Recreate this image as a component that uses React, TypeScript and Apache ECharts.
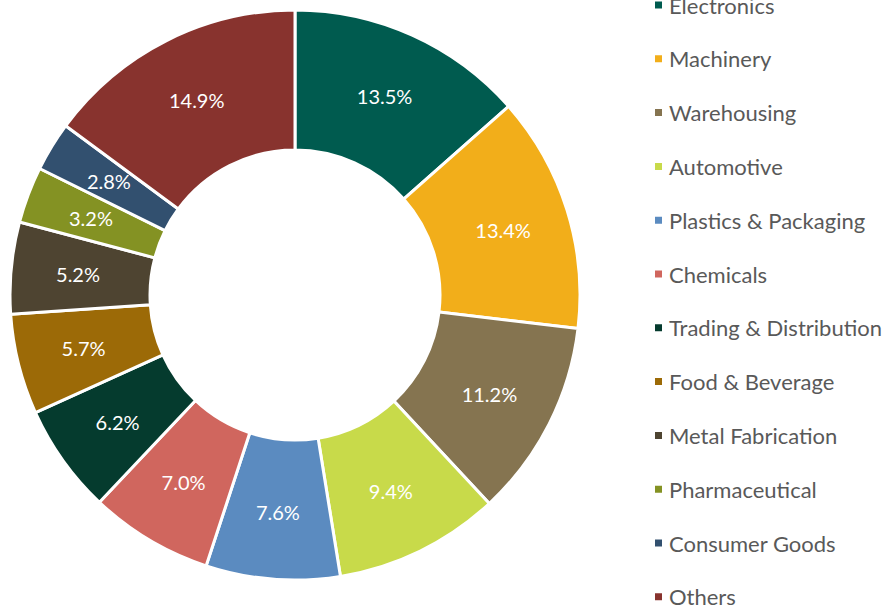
import React, { useEffect, useRef } from "react";
import * as echarts from "echarts";

const categories = [
  "Electronics",
  "Machinery",
  "Warehousing",
  "Automotive",
  "Plastics & Packaging",
  "Chemicals",
  "Trading & Distribution",
  "Food & Beverage",
  "Metal Fabrication",
  "Pharmaceutical",
  "Consumer Goods",
  "Others",
];
const shares = [13.5, 13.4, 11.2, 9.4, 7.6, 7.0, 6.2, 5.7, 5.2, 3.2, 2.8, 14.9];
const colors = [
  "#005B4F",
  "#F2AE1A",
  "#857450",
  "#C8DA4A",
  "#5B8BC0",
  "#D0665E",
  "#053B2E",
  "#9C6A07",
  "#4E4431",
  "#849223",
  "#32506F",
  "#88332E",
];

export default function App() {
  const ref = useRef<HTMLDivElement>(null);
  useEffect(() => {
    if (!ref.current) return;
    const chart = echarts.init(ref.current, undefined, { renderer: "svg" });
    chart.setOption({
      animation: false,
      color: colors,
      legend: {
        orient: "vertical",
        left: 653,
        top: -6,
        height: 800,
        padding: 0,
        itemWidth: 9,
        itemHeight: 9,
        itemGap: 31.8,
        icon: "rect",
        textStyle: {
          fontFamily: "Lato",
          fontSize: 22,
          color: "#595959",
          padding: [0, 0, 0, 1],
        },
        data: categories,
      },
      series: [
        {
          type: "pie",
          center: [295, 295],
          radius: [145, 285],
          startAngle: 90,
          clockwise: true,
          itemStyle: { borderColor: "#ffffff", borderWidth: 3 },
          label: {
            show: true,
            position: "inside",
            formatter: (p: any) => p.value.toFixed(1) + "%",
            color: "#ffffff",
            fontFamily: "Lato",
            fontSize: 20,
          },
          labelLine: { show: false },
          data: categories.map((c, i) => ({ name: c, value: shares[i] })),
        },
      ],
    });
    return () => chart.dispose();
  }, []);
  return (
    <div
      ref={ref}
      style={{ position: "absolute", left: 0, top: 0, width: 888, height: 608 }}
    />
  );
}
